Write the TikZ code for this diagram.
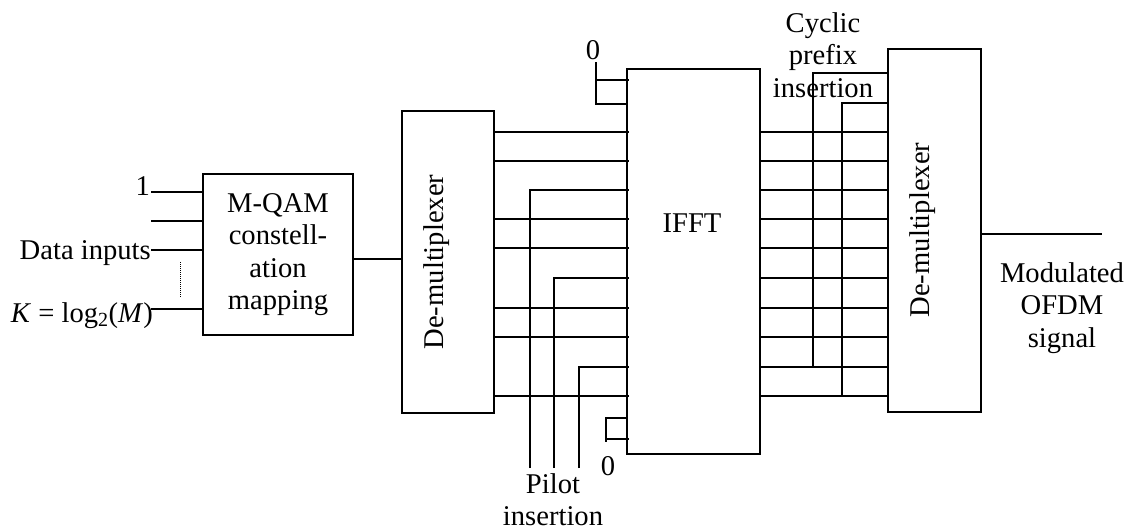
\documentclass[tikz,border=0pt]{standalone}
\usepackage{fontspec}
\setmainfont{Liberation Serif}
\begin{document}
\begin{tikzpicture}[x=1pt,y=-1pt,
  box/.style={draw, line width=2pt, rectangle, inner sep=0pt},
  lbl/.style={inner sep=0pt, font=\fontsize{28.6}{32.5}\selectfont, align=center},
  wire/.style={line width=1.8pt},
  into/.style={wire, shorten >=-2.5pt}]
\useasboundingbox (0,0) rectangle (1129,531);

% blocks
\node[box, lbl, minimum width=150pt, minimum height=161pt] (qam) at (278,254.5) {M-QAM\\constell-\\ation\\mapping};
\node[box, minimum width=92pt, minimum height=302pt] (demuxA) at (448,262) {};
\node[lbl, rotate=90] (demuxAtext) at (437,262) {De-multiplexer};
\node[box, minimum width=133pt, minimum height=385pt] (ifft) at (693.5,261.5) {};
\node[lbl, anchor=base] (iffttext) at (692,232) {IFFT};
\node[box, minimum width=93pt, minimum height=363pt] (demuxB) at (934.5,230.5) {};
\node[lbl, rotate=90] (demuxBtext) at (923,230) {De-multiplexer};

% labels
\node[lbl, anchor=base east] (one) at (150,195) {1};
\node[lbl, anchor=base east] (data) at (151,259) {Data inputs};
\node[lbl, anchor=base east] (kk) at (153,322) {\textit{K} = log\textsubscript{2}(\textit{M})};
\node[lbl, anchor=base] (zeroT) at (593,59) {0};
\node[lbl, anchor=base] (zeroB) at (608,475) {0};
\node[lbl] (pilot) at (553,499.5) {Pilot\\insertion};
\node[lbl] (cyclic) at (823,55) {Cyclic\\prefix\\insertion};
\node[lbl] (modout) at (1062,308) {Modulated\\OFDM\\signal};

% data inputs
\foreach \y [count=\i] in {192,221,250,309} {
  \coordinate (in\i) at (151,\y);
  \draw[wire] (in\i) -- (in\i -| qam.west);
}
\coordinate (dotA) at (180,262);
\coordinate (dotB) at (180,297);
\draw[line width=1pt, dash pattern=on 1pt off 1pt] (dotA) -- (dotB);

% mapper to demux
\coordinate (qo) at (353,259);
\draw[wire] (qo) -- (qo -| demuxA.west);

% demux outputs to IFFT
\foreach \y [count=\i] in {132,161,219,248,308,337,396} {
  \coordinate (d\i) at (0,\y);
  \draw[into] (demuxA.east |- d\i) -- (ifft.west |- d\i);
}

% pilots
\foreach \x/\y [count=\i] in {530/190,554/278,579/367} {
  \coordinate (pb\i) at (\x,468);
  \coordinate (pt\i) at (\x,\y);
  \draw[into] (pb\i) -- (pt\i) -- (pt\i -| ifft.west);
}

% zero inputs top
\coordinate (zt) at (596,62);
\coordinate (zta) at (596,80);
\coordinate (ztb) at (596,104);
\draw[wire] (zt) -- (ztb) -- (ztb -| ifft.west);
\draw[into] (zta) -- (zta -| ifft.west);

% zero inputs bottom
\coordinate (zba) at (606,418);
\coordinate (zbb) at (606,439);
\coordinate (zbe) at (606,442);
\draw[wire] (zba -| ifft.west) -- (zba) -- (zbe);
\draw[into] (zbb) -- (zbb -| ifft.west);

% IFFT outputs
\foreach \y [count=\i] in {132,161,190,219,248,278,308,337,367,396} {
  \coordinate (o\i) at (0,\y);
  \draw[wire] (ifft.east |- o\i) -- (demuxB.west |- o\i);
}

% cyclic prefix
\coordinate (c1b) at (813,367);
\coordinate (c1t) at (813,73);
\draw[wire] (c1b) -- (c1t) -- (c1t -| demuxB.west);
\coordinate (c2b) at (842,396);
\coordinate (c2t) at (842,103);
\draw[wire] (c2b) -- (c2t) -- (c2t -| demuxB.west);

% output
\coordinate (out) at (1102,234);
\draw[wire] (demuxB.east |- out) -- (out);
\end{tikzpicture}
\end{document}
